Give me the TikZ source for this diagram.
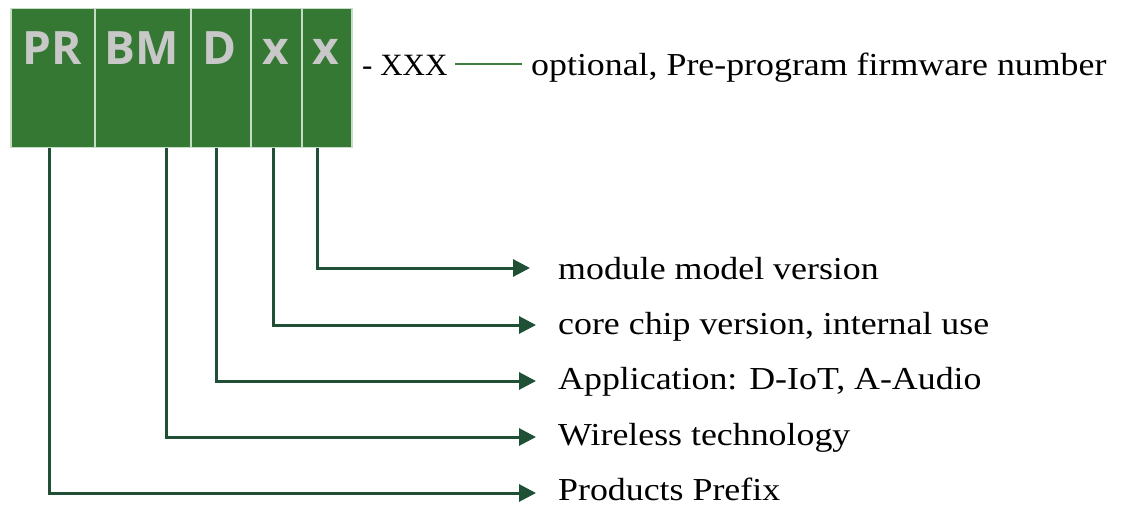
\documentclass[tikz,border=0pt]{standalone}
\usepackage{fontspec}
\setmainfont{Liberation Serif}[FakeStretch=1.12]
\newfontfamily\plainserif{Liberation Serif}
\newfontfamily\boxfont{Open Sans}
\usetikzlibrary{arrows.meta}
\definecolor{cellgreen}{HTML}{347834}
\definecolor{celledge}{HTML}{C6DCC6}
\definecolor{cellgray}{HTML}{C8C8C8}
\definecolor{conngreen}{HTML}{1F5035}
\definecolor{optgreen}{HTML}{3C7F3C}
\begin{document}
\begin{tikzpicture}[x=1pt,y=-1pt,
  cell/.style={draw=celledge,line width=1.5pt,fill=cellgreen,inner sep=0pt,anchor=north west,minimum height=139pt},
  celltext/.style={text=cellgray,font=\boxfont\bfseries\fontsize{46}{50}\selectfont,anchor=base,inner sep=0pt},
  lbl/.style={anchor=base west,inner sep=0pt,font=\fontsize{32}{36}\selectfont},
  conn/.style={draw=conngreen,line width=3pt,-{Triangle[length=17pt,width=17pt]}}]
\useasboundingbox (0,0) rectangle (1121,505);
% cells
\node[cell,minimum width=84pt] (c1) at (10,8) {};
\node[cell,minimum width=96pt] (c2) at (94,8) {};
\node[cell,minimum width=60pt] (c3) at (190,8) {};
\node[cell,minimum width=51pt] (c4) at (250,8) {};
\node[cell,minimum width=50pt] (c5) at (301,8) {};
\node[celltext] (t1) at (52,65) {PR};
\node[celltext] (t2) at (142,65) {BM};
\node[celltext] (t3) at (220,65) {D};
\node[celltext] (t4) at (275.5,65) {x};
\node[celltext] (t5) at (326,65) {x};
% top line
\node[lbl,font=\plainserif\fontsize{31}{36}\selectfont] (xxx) at (362,76) {- XXX};
\node[lbl] (opt) at (531,76) {optional, Pre-program firmware number};
\draw[optgreen,line width=2.5pt] ([xshift=-76pt,yshift=12pt]opt.base west) -- ([xshift=-9pt,yshift=12pt]opt.base west);
% labels
\node[lbl] (l5) at (558,279) {module model version};
\node[lbl] (l4) at (558,334) {core chip version, internal use};
\node[lbl] (l3) at (558,389) {Application: D-IoT, A-Audio};
\node[lbl] (l2) at (558,445) {Wireless technology};
\node[lbl] (l1) at (558,500) {Products Prefix};
% connectors
\draw[conn] (c5.south -| 317,0) |- ([xshift=-28pt,yshift=11pt]l5.base west);
\draw[conn] (c4.south -| 273,0) |- ([xshift=-22pt,yshift=9pt]l4.base west);
\draw[conn] (c3.south -| 216,0) |- ([xshift=-22pt,yshift=8pt]l3.base west);
\draw[conn] (c2.south -| 166,0) |- ([xshift=-22pt,yshift=8pt]l2.base west);
\draw[conn] (c1.south -| 49,0) |- ([xshift=-22pt,yshift=7pt]l1.base west);
\end{tikzpicture}
\end{document}
